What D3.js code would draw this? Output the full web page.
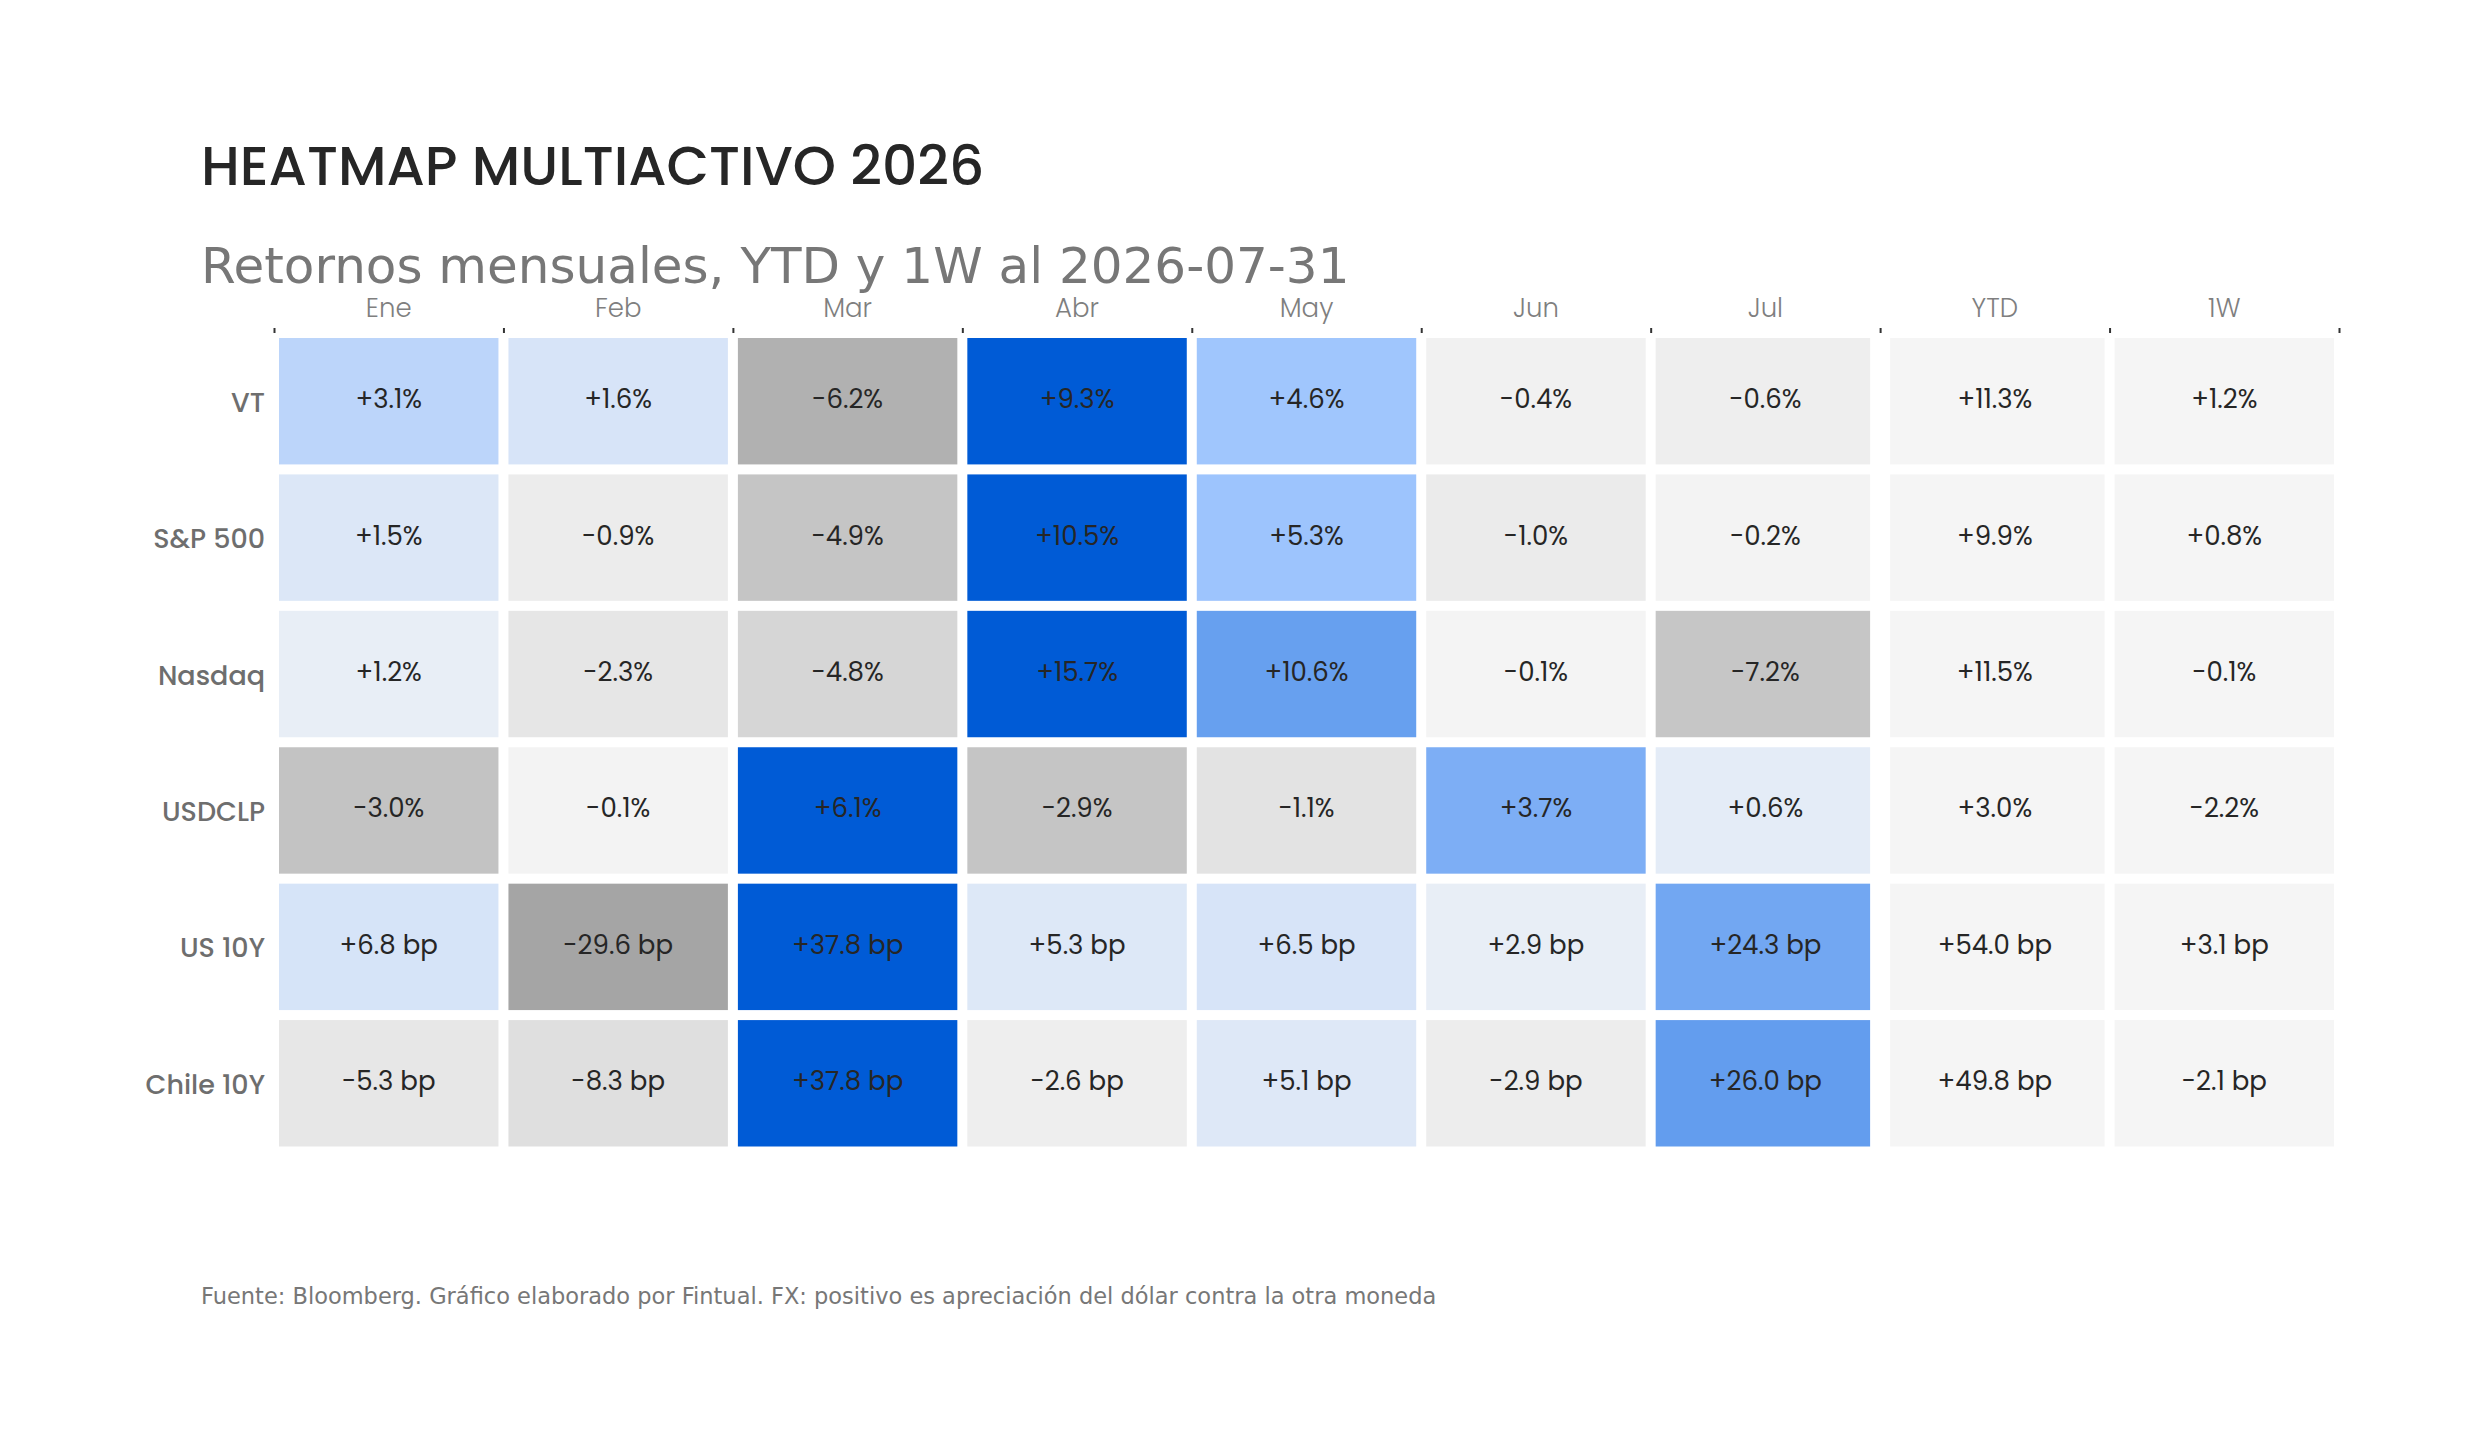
<!DOCTYPE html>
<html>
<head>
<meta charset="utf-8">
<script src="https://cdn.jsdelivr.net/npm/d3@7"></script>
<style>
  html, body { margin: 0; padding: 0; background: #ffffff; }
  svg { display: block; }
</style>
</head>
<body>
<svg id="chart" width="2483" height="1452"></svg>
<script>
// ---------------- DATA ----------------
const rowLabels = ["VT", "S&P 500", "Nasdaq", "USDCLP", "US 10Y", "Chile 10Y"];
const colLabels = ["Ene", "Feb", "Mar", "Abr", "May", "Jun", "Jul", "YTD", "1W"];
const monthCols = ["Ene", "Feb", "Mar", "Abr", "May", "Jun", "Jul"];
const rowUnits = ["%", "%", "%", "%", " bp", " bp"];

const vtValues      = [3.1, 1.6, -6.2, 9.3, 4.6, -0.4, -0.6, 11.3, 1.2];
const spValues      = [1.5, -0.9, -4.9, 10.5, 5.3, -1.0, -0.2, 9.9, 0.8];
const nasdaqValues  = [1.2, -2.3, -4.8, 15.7, 10.6, -0.1, -7.2, 11.5, -0.1];
const usdclpValues  = [-3.0, -0.1, 6.1, -2.9, -1.1, 3.7, 0.6, 3.0, -2.2];
const us10yValues   = [6.8, -29.6, 37.8, 5.3, 6.5, 2.9, 24.3, 54.0, 3.1];
const chile10yValues= [-5.3, -8.3, 37.8, -2.6, 5.1, -2.9, 26.0, 49.8, -2.1];

const titleText = "HEATMAP MULTIACTIVO 2026";
const subtitleText = "Retornos mensuales, YTD y 1W al 2026-07-31";
const footerText = "Fuente: Bloomberg. Gráfico elaborado por Fintual. FX: positivo es apreciación del dólar contra la otra moneda";

// ---------------- BUILD ----------------
(function () {
const seriesValues = [vtValues, spValues, nasdaqValues, usdclpValues, us10yValues, chile10yValues];
const cells = [];
rowLabels.forEach((r, i) => {
  const vals = seriesValues[i];
  const maxAbs = d3.max(colLabels.filter(c => monthCols.includes(c)).map(c => Math.abs(vals[colLabels.indexOf(c)])));
  colLabels.forEach((c, j) => {
    cells.push({ row: r, col: c, value: vals[j], unit: rowUnits[i], norm: vals[j] / maxAbs, monthly: monthCols.includes(c) });
  });
});

const svg = d3.select("#chart");
const W = 2483, H = 1452;
svg.append("rect").attr("width", W).attr("height", H).attr("fill", "#ffffff");

const gLeft = 274, gRight = 2339, gTop = 333, gBottom = 1151.5;

const x = d3.scaleBand().domain(colLabels).range([gLeft, gRight]).padding(0);
const y = d3.scaleBand().domain(rowLabels).range([gTop, gBottom]).padding(0);

const color = d3.scaleLinear()
  .domain([-1, 0, 0.5, 1])
  .range(["#8f8f8f", "#f5f5f5", "#9fc5fd", "#005bd6"])
  .clamp(true);
const neutral = "#f5f5f5";

const inset = 5;
const sepExtra = 5;
const lastMonth = monthCols[monthCols.length - 1];
const firstSummary = colLabels[monthCols.length];

const fontPop = "Poppins, Inter, 'Open Sans', sans-serif";

const g = svg.append("g");
g.selectAll("rect.cell")
  .data(cells)
  .join("rect")
  .attr("class", "cell")
  .attr("x", d => x(d.col) + inset + (d.col === firstSummary ? sepExtra : 0))
  .attr("y", d => y(d.row) + inset)
  .attr("width", d => x.bandwidth() - 2 * inset - ((d.col === lastMonth || d.col === firstSummary) ? sepExtra : 0))
  .attr("height", y.bandwidth() - 2 * inset)
  .attr("fill", d => d.monthly ? color(d.norm) : neutral);

const fmt = d3.format("+.1f");
g.selectAll("text.val")
  .data(cells)
  .join("text")
  .attr("class", "val")
  .attr("x", d => x(d.col) + x.bandwidth() / 2)
  .attr("y", d => y(d.row) + y.bandwidth() / 2 - 2)
  .attr("text-anchor", "middle")
  .attr("dominant-baseline", "central")
  .attr("font-family", fontPop)
  .attr("font-size", 26)
  .attr("font-weight", 400)
  .attr("fill", "#262626")
  .text(d => fmt(d.value).replace("\u2212", "-") + d.unit);

const xEdge = d3.scaleLinear().domain([0, colLabels.length]).range([gLeft, gRight]);
const topAxis = d3.axisTop(xEdge).tickValues(d3.range(0, colLabels.length + 1)).tickSize(5).tickFormat("");
const axG = svg.append("g").attr("transform", `translate(0,${gTop})`).call(topAxis);
axG.select(".domain").remove();
axG.selectAll(".tick line").attr("stroke", "#333333").attr("stroke-width", 2);

svg.append("g").selectAll("text")
  .data(colLabels)
  .join("text")
  .attr("x", d => x(d) + x.bandwidth() / 2)
  .attr("y", 317)
  .attr("text-anchor", "middle")
  .attr("font-family", fontPop)
  .attr("font-size", 26)
  .attr("font-weight", 300)
  .attr("fill", "#7f7f7f")
  .text(d => d);

svg.append("g").selectAll("text")
  .data(rowLabels)
  .join("text")
  .attr("x", 265)
  .attr("y", d => y(d) + y.bandwidth() / 2 + 1)
  .attr("text-anchor", "end")
  .attr("dominant-baseline", "central")
  .attr("font-family", fontPop)
  .attr("font-size", 27)
  .attr("font-weight", 500)
  .attr("fill", "#6e6e6e")
  .text(d => d);

svg.append("text")
  .attr("x", 201).attr("y", 185)
  .attr("font-family", fontPop)
  .attr("font-size", 55)
  .attr("font-weight", 500)
  .attr("fill", "#262626")
  .text(titleText);

svg.append("text")
  .attr("x", 201).attr("y", 283)
  .attr("font-family", "'DejaVu Sans', sans-serif")
  .attr("font-size", 50)
  .attr("fill", "#777777")
  .text(subtitleText);

svg.append("text")
  .attr("x", 201).attr("y", 1304)
  .attr("font-family", "'DejaVu Sans', sans-serif")
  .attr("font-size", 22.5)
  .attr("fill", "#777777")
  .text(footerText);
})();
</script>
</body>
</html>
